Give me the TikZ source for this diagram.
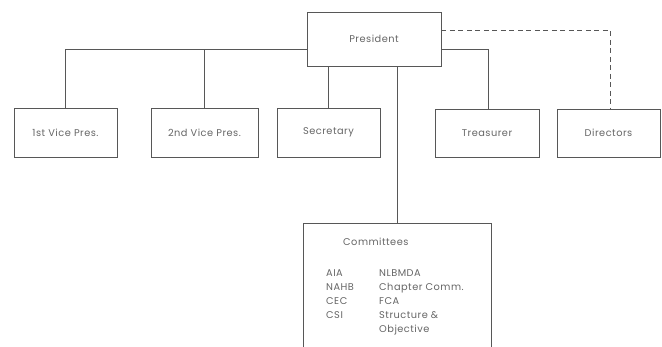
\documentclass[tikz,border=0pt]{standalone}
\usepackage{fontspec}
\setmainfont{Poppins}[LetterSpace=5]
\begin{document}
\begin{tikzpicture}[x=1pt,y=-1pt,
  ink/.style={draw=black!66,line width=0.95pt},
  box/.style={ink,rectangle,inner sep=0pt,font=\fontsize{9.8}{11}\selectfont,text=black!60},
  ctext/.style={inner sep=0pt,anchor=base west,font=\fontsize{9.8}{11}\selectfont,text=black!60},
  conn/.style={ink},
  dconn/.style={ink,dash pattern=on 5pt off 3.5pt}]
\useasboundingbox[fill=white] (0,0) rectangle (662,347);
\clip (0,0) rectangle (662,347);
\node[box,minimum width=134pt,minimum height=54pt] (pres) at (374,39) {President};
\node[box,minimum width=103pt,minimum height=49pt] (vp1) at (65.5,132.5) {1st Vice Pres.};
\node[box,minimum width=107pt,minimum height=49pt] (vp2) at (204.5,132.5) {2nd Vice Pres.};
\node[box,minimum width=103pt,minimum height=49pt] (sec) at (328.5,132.5) {Secretary};
\node[box,minimum width=104pt,minimum height=48pt] (tre) at (487,133) {Treasurer};
\node[box,minimum width=103pt,minimum height=48pt] (dir) at (608.5,133) {Directors};
\node[box,minimum width=188pt,minimum height=150pt,anchor=north] (comm) at (397,223) {};
\coordinate (lj) at (65.5,49);
\coordinate (rj) at (488,49);
\coordinate (dj) at (610,30);
% connectors
\draw[conn] (pres.west |- lj) -- (lj) -- (vp1.north);
\draw[conn] (vp2.north) -- (vp2.north |- lj);
\draw[conn] (pres.south -| sec.north) -- (sec.north);
\draw[conn] (pres.east |- rj) -- (rj) -- (rj |- tre.north);
\draw[dconn] (pres.east |- dj) -- (dj) -- (dj |- dir.north);
\draw[conn] (pres.south -| comm.north) -- (comm.north);
% committees text
\node[ctext] (ct) at (343,245.5) {Committees};
\node[ctext] (a1) at (326,276.5) {AIA};
\node[ctext] (a2) at (326,290.5) {NAHB};
\node[ctext] (a3) at (326,304.5) {CEC};
\node[ctext] (a4) at (326,318.5) {CSI};
\node[ctext] (b1) at (379,276.5) {NLBMDA};
\node[ctext] (b2) at (379,290.5) {Chapter Comm.};
\node[ctext] (b3) at (379,304.5) {FCA};
\node[ctext] (b4) at (379,318.5) {Structure \&};
\node[ctext] (b5) at (379,332.5) {Objective};
\end{tikzpicture}
\end{document}
